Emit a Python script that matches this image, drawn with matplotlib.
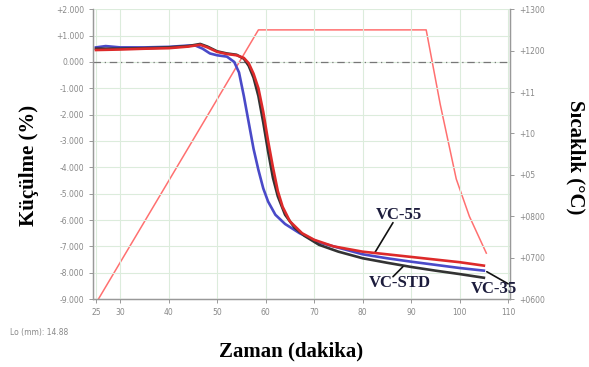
import numpy as np
import matplotlib
matplotlib.use("Agg")
import matplotlib.pyplot as plt

# shrinkage curves (time in min, shrinkage in %)
t_blue = [25, 27, 30, 35, 40, 44, 45.5, 47, 48.5, 50, 52, 53.5, 54.5, 55.5, 56.5, 57.5, 58.5,
          59.5, 60.5, 62, 64, 67, 71, 75, 80, 85, 90, 95, 100, 105]
v_blue = [0.55, 0.6, 0.55, 0.55, 0.57, 0.62, 0.62, 0.5, 0.32, 0.25, 0.2, 0.0, -0.4, -1.3, -2.3,
          -3.3, -4.1, -4.8, -5.3, -5.8, -6.15, -6.5, -6.85, -7.05, -7.3, -7.45, -7.58, -7.7, -7.82, -7.92]

t_red = [25, 30, 35, 40, 44, 46.5, 48, 50, 52, 54, 55.5, 56.5, 57.5, 58.5, 59.5, 60.5, 61.5,
         62.5, 63.5, 65, 67.5, 70, 74, 80, 85, 90, 95, 100, 105]
v_red = [0.45, 0.47, 0.5, 0.52, 0.58, 0.65, 0.55, 0.38, 0.3, 0.25, 0.15, -0.05, -0.45, -1.0, -1.9,
         -3.0, -4.0, -4.9, -5.5, -6.05, -6.5, -6.75, -7.0, -7.2, -7.3, -7.4, -7.5, -7.6, -7.73]

t_black = [25, 30, 35, 40, 44, 46.5, 48, 50, 52, 54, 55.5, 56.5, 57.5, 58.5, 59.5, 60.5, 61.5,
           62.5, 64, 66, 68, 71, 75, 80, 85, 90, 95, 100, 105]
v_black = [0.5, 0.5, 0.52, 0.55, 0.6, 0.68, 0.58, 0.4, 0.32, 0.27, 0.12, -0.15, -0.6, -1.3, -2.3,
           -3.4, -4.4, -5.1, -5.8, -6.3, -6.6, -6.94, -7.2, -7.45, -7.62, -7.78, -7.92, -8.05, -8.19]

# furnace temperature
t_temp = [25.5, 58.5, 93.1, 96, 99.3, 102, 105.5]
v_temp = [600, 1250, 1250, 1070, 890, 800, 711]

x_ticks = [25, 30, 40, 50, 60, 70, 80, 90, 100, 110]
y_ticks = [2, 1, 0, -1, -2, -3, -4, -5, -6, -7, -8, -9]
y_labels = ["+2.000", "+1.000", "0.000", "-1.000", "-2.000", "-3.000", "-4.000",
            "-5.000", "-6.000", "-7.000", "-8.000", "-9.000"]
t_ticks = [1300, 1200, 1100, 1000, 900, 800, 700, 600]
t_labels = ["+1300", "+1200", "+11", "+10", "+05", "+0800", "+0700", "+0600"]

fig = plt.figure(figsize=(5.89, 3.67), dpi=100)
ax = fig.add_axes([0.158, 0.185, 0.708, 0.79])
ax2 = ax.twinx()

gc = "#999999"
ax.set_xlim(24.4, 110.4)
ax.set_ylim(-9, 2)
ax2.set_ylim(600, 1300)

ax.set_xticks(x_ticks)
ax.set_xticklabels([str(x) for x in x_ticks])
ax.set_yticks(y_ticks)
ax.set_yticklabels(y_labels)
ax2.set_yticks(t_ticks)
ax2.set_yticklabels(t_labels)

ax.grid(True, color="#dcecdc", lw=0.8)
ax.set_axisbelow(True)
for a in (ax, ax2):
    a.spines["top"].set_visible(False)
    for s in ("left", "right", "bottom"):
        a.spines[s].set_color(gc)
        a.spines[s].set_linewidth(0.9)
    a.tick_params(labelsize=5.5, labelcolor="#888888", color=gc, length=3, width=0.7)

ax.axhline(0, color="#777777", lw=0.9, ls=(0, (6, 3, 1, 3)))

ax2.plot(t_temp, v_temp, color="#ff7070", lw=1.1)
ax.plot(t_blue, v_blue, color="#4a4ac8", lw=1.9, zorder=3)
ax.plot(t_black, v_black, color="#333333", lw=1.9, zorder=3)
ax.plot(t_red, v_red, color="#dd2a2a", lw=1.9, zorder=4)
ax.set_zorder(ax2.get_zorder() + 1)
ax.patch.set_visible(False)

lab = dict(fontsize=12, fontweight="bold", family="Liberation Serif", color="#1c1c3c",
           ha="center", va="center", zorder=6)
ax.text(87.5, -5.8, "VC-55", **lab)
ax.text(87.7, -8.38, "VC-STD", **lab)
ax.text(107.1, -8.6, "VC-35", clip_on=False, **lab)

lead = dict(arrowstyle="-", color="#111111", lw=1.2, shrinkA=0, shrinkB=0)
ax.annotate("", xy=(82.5, -7.24), xytext=(86.25, -6.1), arrowprops=lead)
ax.annotate("", xy=(88.3, -7.77), xytext=(86.25, -8.15), arrowprops=lead)
ax.annotate("", xy=(105.6, -7.96), xytext=(110.0, -8.42), arrowprops=lead)

af = dict(fontsize=15, fontweight="bold", family="Liberation Serif")
fig.text(0.049, 0.55, "Küçülme (%)", rotation=90, ha="center", va="center", **af)
fig.text(0.977, 0.572, "Sıcaklık (°C)", rotation=270, ha="center", va="center", **af)
fig.text(0.494, 0.041, "Zaman (dakika)", ha="center", va="center", **af)
fig.text(0.017, 0.095, "Lo (mm): 14.88", fontsize=5.5, color="#888888", va="center")

fig.savefig("out.png", dpi=100)
